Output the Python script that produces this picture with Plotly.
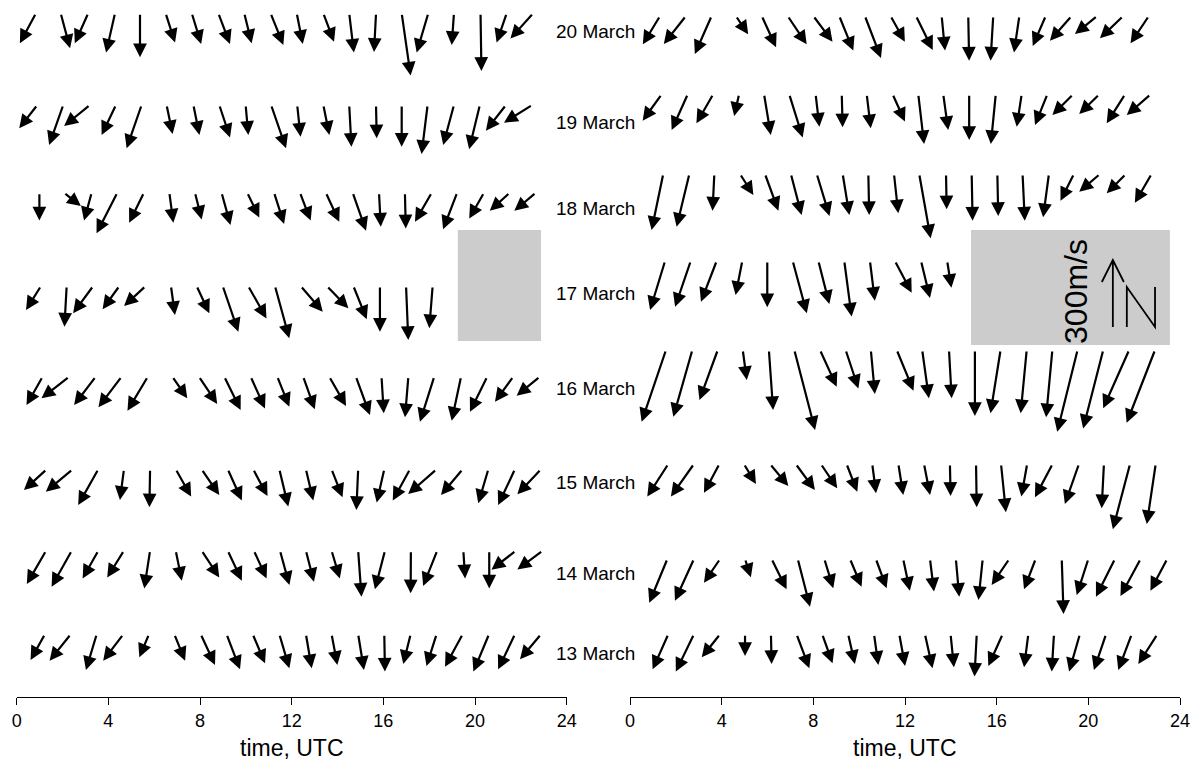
import plotly.graph_objects as go

# ---------------- data: wind vectors (time in hours UTC, east / north components in m/s)
# right panel (labelled rows)
t_mar20 = [1.31, 2.44, 3.56, 4.62, 5.75, 6.88, 8.00, 9.13, 10.25, 11.37, 12.48, 13.60, 14.76, 15.85, 16.99, 18.14, 19.27, 20.39, 21.52, 22.64]
u_mar20 = [-77, -99, -75, 55, 64, 85, 86, 63, 72, 64, 75, 15, 4, -12, -24, -58, -97, -100, -104, -82]
v_mar20 = [-127, -125, -170, -82, -140, -127, -115, -155, -188, -115, -152, -155, -200, -200, -163, -134, -111, -81, -100, -122]

t_mar19 = [1.38, 2.52, 3.63, 4.76, 5.85, 6.95, 8.10, 9.24, 10.33, 11.46, 12.58, 13.67, 14.80, 15.96, 17.09, 18.21, 19.34, 20.48, 21.60, 22.72]
u_mar19 = [-85, -72, -75, -22, 30, 60, 17, 4, 18, 55, 26, 22, 0, -22, -22, -55, -93, -90, -82, -107]
v_mar19 = [-118, -160, -130, -97, -182, -193, -145, -148, -152, -122, -223, -160, -205, -223, -145, -137, -93, -88, -130, -93]

t_mar18 = [1.45, 2.59, 3.68, 4.80, 5.89, 7.02, 8.15, 9.28, 10.40, 11.52, 12.62, 13.79, 14.91, 16.03, 17.13, 18.28, 19.37, 20.51, 21.64, 22.76]
u_mar18 = [-52, -57, -8, 60, 60, 48, 57, 30, 4, 19, 51, 3, 4, 4, 10, -26, -60, -93, -86, -75]
v_mar18 = [-251, -236, -164, -94, -164, -184, -188, -184, -184, -176, -288, -158, -209, -188, -209, -194, -120, -79, -86, -129]

t_mar17 = [1.53, 2.65, 3.78, 4.90, 5.99, 7.10, 8.22, 9.35, 10.47, 11.56, 12.70, 13.84]
u_mar17 = [-67, -70, -70, -30, 0, 63, 49, 33, 22, 75, 40, 19]
v_mar17 = [-219, -205, -182, -152, -207, -234, -193, -249, -178, -142, -166, -120]

t_mar16 = [1.57, 2.72, 3.83, 4.92, 6.06, 7.17, 8.29, 9.41, 10.51, 11.64, 12.75, 13.92, 15.05, 16.17, 17.31, 18.43, 19.53, 20.65, 21.78, 22.91]
u_mar16 = [-109, -85, -82, 18, 19, 93, 75, 57, 18, 75, 30, 12, 0, -45, -27, -28, -91, -90, -116, -127]
v_mar16 = [-321, -299, -224, -134, -269, -358, -164, -172, -197, -182, -216, -216, -296, -283, -283, -301, -366, -351, -261, -326]

t_mar15 = [1.67, 2.79, 3.90, 4.97, 6.11, 7.23, 8.33, 9.45, 10.57, 11.71, 12.83, 13.96, 15.10, 16.19, 17.33, 18.44, 19.59, 20.68, 21.82, 22.94]
u_mar15 = [-94, -103, -69, 54, 82, 86, 73, 48, 17, 22, 27, 3, 3, 22, -26, -79, -63, -10, -77, -40]
v_mar15 = [-146, -146, -129, -90, -99, -116, -109, -124, -131, -139, -139, -143, -194, -216, -146, -149, -179, -198, -292, -269]

t_mar14 = [1.63, 2.79, 3.93, 5.02, 6.18, 7.32, 8.48, 9.60, 10.73, 11.92, 13.09, 14.22, 15.39, 16.55, 17.70, 18.84, 20.00, 21.16, 22.28, 23.44]
u_mar14 = [-81, -85, -72, 26, 67, 55, 40, 52, 48, 30, 18, 15, -19, -79, -52, 8, -52, -85, -90, -75]
v_mar14 = [-196, -187, -106, -82, -136, -214, -131, -124, -131, -142, -146, -169, -184, -116, -136, -246, -161, -169, -166, -142]

t_mar13 = [1.67, 2.79, 3.93, 5.02, 6.15, 7.27, 8.39, 9.52, 10.65, 11.75, 12.87, 13.99, 15.13, 16.26, 17.38, 18.50, 19.63, 20.77, 21.89, 23.01]
u_mar13 = [-70, -81, -82, 0, 3, 57, 46, 30, 19, 26, 34, 15, -10, -64, -19, -10, -48, -54, -60, -85]
v_mar13 = [-157, -167, -103, -97, -133, -152, -130, -133, -137, -142, -152, -148, -189, -142, -148, -167, -167, -160, -160, -133]

# left panel (unlabelled rows, top to bottom)
t_mar12 = [0.84, 1.92, 3.12, 4.29, 5.38, 6.50, 7.64, 8.80, 9.93, 11.08, 12.22, 13.38, 14.51, 15.68, 16.80, 17.96, 19.08, 20.24, 21.38, 22.54]
u_mar12 = [-72, 42, -60, -40, 0, 42, 42, 52, 33, 57, 27, 48, 21, -9, 40, -52, -10, 4, -45, -102]
v_mar12 = [-134, -157, -134, -176, -197, -131, -137, -137, -134, -142, -137, -127, -176, -173, -279, -176, -142, -258, -131, -113]

t_mar11 = [0.90, 2.03, 3.20, 4.33, 5.45, 6.54, 7.71, 8.84, 9.99, 11.10, 12.24, 13.38, 14.51, 15.68, 16.80, 17.93, 19.08, 20.21, 21.35, 22.50]
u_mar11 = [-81, -63, -116, -64, -67, 27, 27, 48, 12, 67, 15, 27, 10, 3, 0, -27, -48, -48, -90, -127]
v_mar11 = [-104, -179, -94, -134, -194, -130, -134, -145, -134, -194, -142, -134, -187, -149, -187, -219, -179, -198, -115, -79]

t_mar10 = [0.99, 2.06, 3.27, 4.39, 5.55, 6.66, 7.78, 8.94, 10.06, 11.23, 12.36, 13.49, 14.66, 15.81, 16.94, 18.11, 19.22, 20.39, 21.52, 22.66]
u_mar10 = [0, 76, -34, -93, -66, 18, 30, 40, 54, 45, 48, 60, 60, 8, 4, -75, -63, -66, -90, -97]
v_mar10 = [-125, -60, -125, -182, -134, -134, -120, -145, -111, -140, -125, -130, -170, -152, -160, -130, -164, -116, -81, -81]

t_mar09 = [1.06, 2.18, 3.34, 4.48, 5.63, 6.73, 7.85, 8.99, 10.10, 11.27, 12.39, 13.53, 14.69, 15.85, 16.99, 18.15]
u_mar09 = [-67, -10, -90, -75, -97, 18, 57, 70, 82, 64, 99, 97, 60, 0, 10, -15]
v_mar09 = [-107, -182, -122, -104, -90, -130, -122, -205, -145, -234, -115, -100, -149, -205, -242, -189]

t_mar08 = [1.13, 2.29, 3.45, 4.58, 5.72, 6.79, 7.95, 9.06, 10.21, 11.37, 12.50, 13.64, 14.80, 15.92, 17.09, 18.22, 19.39, 20.53, 21.67, 22.83]
u_mar08 = [-72, -124, -97, -104, -91, 67, 82, 73, 64, 54, 52, 75, 63, 10, -15, -64, -42, -77, -82, -104]
v_mar08 = [-127, -97, -127, -137, -152, -97, -122, -149, -142, -134, -146, -131, -172, -164, -182, -202, -197, -157, -112, -85]

t_mar07 = [1.31, 2.44, 3.56, 4.68, 5.82, 6.94, 8.07, 9.21, 10.32, 11.46, 12.62, 13.74, 14.90, 16.04, 17.16, 18.32, 19.46, 20.58, 21.74, 22.88]
u_mar07 = [-102, -120, -90, -18, -3, 69, 79, 63, 64, 40, 33, 49, -8, -34, -77, -127, -97, -45, -75, -106]
v_mar07 = [-93, -100, -160, -137, -170, -122, -115, -140, -120, -167, -140, -125, -182, -149, -140, -111, -115, -152, -160, -112]

t_mar06 = [1.28, 2.40, 3.56, 4.68, 5.82, 6.94, 8.07, 9.21, 10.35, 11.49, 12.62, 13.74, 14.90, 16.07, 17.20, 18.35, 19.49, 20.62, 21.78, 22.95]
u_mar06 = [-86, -90, -70, -75, -26, 27, 79, 63, 57, 42, 36, 37, 15, -45, -1, -63, 8, 0, -109, -113]
v_mar06 = [-149, -161, -124, -120, -169, -134, -120, -134, -124, -154, -139, -124, -206, -173, -191, -158, -124, -169, -85, -84]

t_mar05 = [1.23, 2.36, 3.49, 4.65, 5.77, 6.88, 8.03, 9.16, 10.30, 11.46, 12.62, 13.74, 14.90, 16.04, 17.19, 18.32, 19.46, 20.61, 21.74, 22.88]
u_mar05 = [-64, -95, -48, -90, -43, 48, 64, 60, 55, 45, 26, 26, 26, 3, -33, -45, -79, -70, -75, -94]
v_mar05 = [-115, -118, -160, -118, -103, -118, -137, -157, -130, -152, -152, -137, -160, -167, -133, -142, -145, -167, -157, -112]

day_labels = ["20 March", "19 March", "18 March", "17 March", "16 March", "15 March", "14 March", "13 March"]
tick_vals = [0, 4, 8, 12, 16, 20, 24]
scale_speed = 300  # m/s, reference arrow

# ---------------- layout constants
W, H = 1195, 767
PLOT_BOTTOM = 697               # pixel row of the time axis
PX_PER_MS = 67.0 / 300.0        # arrow length in px per m/s
PX_PER_HOUR = 550.0 / 24.0
FONT = "Liberation Sans, Arial, sans-serif"

left_rows = [(t_mar12, u_mar12, v_mar12, 13.3), (t_mar11, u_mar11, v_mar11, 105),
             (t_mar10, u_mar10, v_mar10, 192.7), (t_mar09, u_mar09, v_mar09, 286),
             (t_mar08, u_mar08, v_mar08, 376.7), (t_mar07, u_mar07, v_mar07, 469.3),
             (t_mar06, u_mar06, v_mar06, 550.7), (t_mar05, u_mar05, v_mar05, 634.3)]
right_rows = [(t_mar20, u_mar20, v_mar20, 16), (t_mar19, u_mar19, v_mar19, 94.3),
              (t_mar18, u_mar18, v_mar18, 174), (t_mar17, u_mar17, v_mar17, 261),
              (t_mar16, u_mar16, v_mar16, 350), (t_mar15, u_mar15, v_mar15, 464),
              (t_mar14, u_mar14, v_mar14, 559), (t_mar13, u_mar13, v_mar13, 634.3)]
label_y = [32, 122, 209, 293, 388, 482, 573, 653]

fig = go.Figure()
annotations = []
shapes = []

# gray boxes (drawn below arrows)
shapes.append(dict(type="rect", xref="x", yref="y", x0=19.25, x1=22.88, y0=230, y1=341,
                   fillcolor="#cccccc", line=dict(width=0), layer="below"))
shapes.append(dict(type="rect", xref="x2", yref="y2", x0=14.88, x1=23.56, y0=230, y1=345,
                   fillcolor="#cccccc", line=dict(width=0), layer="below"))


def add_arrows(rows, xr, yr):
    for times, us, vs, y0 in rows:
        for t, u, v in zip(times, us, vs):
            x_tip = t + u * PX_PER_MS / PX_PER_HOUR
            y_tip = y0 - v * PX_PER_MS
            annotations.append(dict(
                x=x_tip, y=y_tip, ax=t, ay=y0, xref=xr, yref=yr, axref=xr, ayref=yr,
                text="", showarrow=True, arrowhead=2, arrowsize=1.25, arrowwidth=2.2,
                arrowcolor="black", standoff=0, startstandoff=0, font=dict(size=1)))


add_arrows(left_rows, "x", "y")
add_arrows(right_rows, "x2", "y2")

# day labels for the right panel
for lab, ly in zip(day_labels, label_y):
    annotations.append(dict(x=637 / W, y=1 - ly / PLOT_BOTTOM, xref="paper", yref="paper", text=lab,
                            showarrow=False, xanchor="right", yanchor="middle",
                            font=dict(family=FONT, size=19, color="black")))

# scale legend: 300 m/s arrow pointing north + "N"
leg_x = 21.07
leg_y0 = 327
leg_y1 = leg_y0 - scale_speed * PX_PER_MS
hw = 11 / PX_PER_HOUR
shapes.append(dict(type="path", xref="x2", yref="y2",
                   path=f"M{leg_x},{leg_y0} L{leg_x},{leg_y1} M{leg_x - hw},{leg_y1 + 22} L{leg_x},{leg_y1} L{leg_x + hw},{leg_y1 + 22}",
                   line=dict(color="black", width=1.8)))
nx0, nx1 = 21.68, 22.91
shapes.append(dict(type="path", xref="x2", yref="y2",
                   path=f"M{nx0},327 L{nx0},287 L{nx1},327 L{nx1},287",
                   line=dict(color="black", width=1.8)))
annotations.append(dict(x=19.46, y=291, xref="x2", yref="y2", text=f"{scale_speed}m/s", textangle=-90,
                        showarrow=False, xanchor="center", yanchor="middle",
                        font=dict(family=FONT, size=32, color="black")))

# axis titles (below the plot area, in paper coordinates)
for xr_center in [(16.7 + 566.7) / 2 / W, (630 + 1180) / 2 / W]:
    annotations.append(dict(x=xr_center, y=-(748 - PLOT_BOTTOM) / PLOT_BOTTOM, xref="paper", yref="paper",
                            text="time, UTC", showarrow=False, xanchor="center", yanchor="middle",
                            font=dict(family=FONT, size=23, color="black")))

xaxis_common = dict(range=[0, 24], tickvals=tick_vals, ticktext=[str(v) for v in tick_vals],
                    showgrid=False, zeroline=False, showline=True, linecolor="black", linewidth=1,
                    ticks="outside", ticklen=7, tickwidth=1, tickcolor="black", automargin=False,
                    tickfont=dict(family=FONT, size=18, color="black"), fixedrange=True)
yaxis_common = dict(range=[PLOT_BOTTOM, 0], visible=False, showgrid=False, zeroline=False,
                    fixedrange=True, automargin=False)

fig.update_layout(
    width=W, height=H, autosize=False,
    margin=dict(l=0, r=0, t=0, b=H - PLOT_BOTTOM, pad=0, autoexpand=False),
    paper_bgcolor="white", plot_bgcolor="white",
    showlegend=False, hovermode=False,
    xaxis=dict(domain=[16.7 / W, 566.7 / W], anchor="y", **xaxis_common),
    yaxis=dict(domain=[0, 1], anchor="x", **yaxis_common),
    xaxis2=dict(domain=[630 / W, 1180 / W], anchor="y2", **xaxis_common),
    yaxis2=dict(domain=[0, 1], anchor="x2", **yaxis_common),
    annotations=annotations,
    shapes=shapes,
    font=dict(family=FONT, color="black"),
)
# invisible traces so both subplots exist
fig.add_trace(go.Scatter(x=[0, 24], y=[0, 0], mode="markers", marker=dict(opacity=0), xaxis="x", yaxis="y", hoverinfo="skip"))
fig.add_trace(go.Scatter(x=[0, 24], y=[0, 0], mode="markers", marker=dict(opacity=0), xaxis="x2", yaxis="y2", hoverinfo="skip"))

fig.write_html("out.html", config={"displayModeBar": False, "staticPlot": True},
               post_script="document.body.style.margin='0px';document.body.style.overflow='hidden';")
